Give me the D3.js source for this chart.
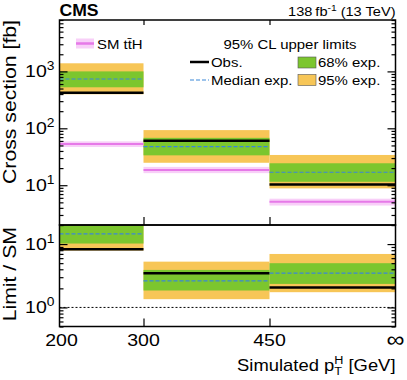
<!DOCTYPE html>
<html>
<head>
<meta charset="utf-8">
<script src="https://cdn.jsdelivr.net/npm/d3@7"></script>
<style>
  body { margin: 0; background: #fff; }
  text { font-family: "Liberation Sans", Arial, sans-serif; fill: #000; }
</style>
</head>
<body>
<svg id="chart" width="407" height="380"></svg>
<script>
// bins in simulated pT(H), last edge stands for infinity
var binEdges = [200, 300, 450, 600];
var xTickValues = [200, 300, 450, 600];
var xTickLabels = ["200", "300", "450", "\u221e"];

// upper pad: cross section limits [fb]
var obsXsec  = [422, 60.5, 10.3];
var medXsec  = [735, 47.5, 16.9];
var lo68Xsec = [526, 33.5, 11.5];
var hi68Xsec = [1000, 68, 24.3];
var lo95Xsec = [396, 24.8, 8.8];
var hi95Xsec = [1388, 93, 34];
var smXsec   = [53, 18.5, 5.1];
var smLoXsec = [47, 16.3, 4.4];
var smHiXsec = [59, 21, 5.8];

// lower pad: limit / SM
var obsRatio  = [8.3, 3.47, 2.06];
var medRatio  = [14.5, 2.62, 3.47];
var lo68Ratio = [10.2, 1.85, 2.35];
var hi68Ratio = [21, 3.91, 4.99];
var lo95Ratio = [7.9, 1.35, 1.74];
var hi95Ratio = [26, 5.28, 6.98];

var upperMajor = [10, 100, 1000];
var upperMinor = [2,3,4,5,6,7,8,9,20,30,40,50,60,70,80,90,200,300,400,500,600,700,800,900,2000,3000,4000,5000,6000,7000,8000];
var lowerMajor = [1, 10];
var lowerMinor = [0.5,0.6,0.7,0.8,0.9,2,3,4,5,6,7,8,9,20];

var col = {
  yellow: "#F7C657",
  green: "#7CC62E",
  median: "#3A87D8",
  smLine: "#E679E8",
  smBand: "#F8CFF8"
};

var padL = 59.5, padR = 395.5, padT = 20, padM = 225, padB = 326.5;

var svg = d3.select("#chart");

var x = d3.scaleLinear().domain([200, 600]).range([padL, padR]);
var yUp = d3.scaleLog().domain([2, 8000]).range([padM, padT]);
var yLo = d3.scaleLog().domain([0.5, 20]).range([padB, padM]);

// clip paths for each pad
var defs = svg.append("defs");
defs.append("clipPath").attr("id", "clipUp").append("rect")
  .attr("x", padL).attr("y", padT).attr("width", padR - padL).attr("height", padM - padT);
defs.append("clipPath").attr("id", "clipLo").append("rect")
  .attr("x", padL).attr("y", padM).attr("width", padR - padL).attr("height", padB - padM);

function bins(lo95, hi95, lo68, hi68, med, obs) {
  return d3.range(binEdges.length - 1).map(function(i) {
    return { x0: binEdges[i], x1: binEdges[i + 1],
      lo95: lo95[i], hi95: hi95[i], lo68: lo68[i], hi68: hi68[i],
      med: med[i], obs: obs[i] };
  });
}

function drawLimits(g, y, data) {
  g.selectAll(".b95").data(data).enter().append("rect")
    .attr("x", function(d) { return x(d.x0); })
    .attr("width", function(d) { return x(d.x1) - x(d.x0); })
    .attr("y", function(d) { return y(d.hi95); })
    .attr("height", function(d) { return y(d.lo95) - y(d.hi95); })
    .attr("fill", col.yellow);
  g.selectAll(".b68").data(data).enter().append("rect")
    .attr("x", function(d) { return x(d.x0); })
    .attr("width", function(d) { return x(d.x1) - x(d.x0); })
    .attr("y", function(d) { return y(d.hi68); })
    .attr("height", function(d) { return y(d.lo68) - y(d.hi68); })
    .attr("fill", col.green);
  g.selectAll(".obs").data(data).enter().append("line")
    .attr("x1", function(d) { return x(d.x0); })
    .attr("x2", function(d) { return x(d.x1); })
    .attr("y1", function(d) { return y(d.obs); })
    .attr("y2", function(d) { return y(d.obs); })
    .attr("stroke", "#000").attr("stroke-width", 2.5);
  g.selectAll(".med").data(data).enter().append("line")
    .attr("x1", function(d) { return x(d.x0); })
    .attr("x2", function(d) { return x(d.x1); })
    .attr("y1", function(d) { return y(d.med); })
    .attr("y2", function(d) { return y(d.med); })
    .attr("stroke", col.median).attr("stroke-width", 1.2)
    .attr("stroke-dasharray", "4,2");
}

// upper pad
var gUp = svg.append("g").attr("clip-path", "url(#clipUp)");
var smData = d3.range(binEdges.length - 1).map(function(i) {
  return { x0: binEdges[i], x1: binEdges[i + 1], v: smXsec[i], lo: smLoXsec[i], hi: smHiXsec[i] };
});
gUp.selectAll(".smb").data(smData).enter().append("rect")
  .attr("x", function(d) { return x(d.x0); })
  .attr("width", function(d) { return x(d.x1) - x(d.x0); })
  .attr("y", function(d) { return yUp(d.hi); })
  .attr("height", function(d) { return yUp(d.lo) - yUp(d.hi); })
  .attr("fill", col.smBand);
drawLimits(gUp, yUp, bins(lo95Xsec, hi95Xsec, lo68Xsec, hi68Xsec, medXsec, obsXsec));
gUp.selectAll(".sml").data(smData).enter().append("line")
  .attr("x1", function(d) { return x(d.x0); })
  .attr("x2", function(d) { return x(d.x1); })
  .attr("y1", function(d) { return yUp(d.v); })
  .attr("y2", function(d) { return yUp(d.v); })
  .attr("stroke", col.smLine).attr("stroke-width", 2);

// lower pad
var gLo = svg.append("g").attr("clip-path", "url(#clipLo)");
drawLimits(gLo, yLo, bins(lo95Ratio, hi95Ratio, lo68Ratio, hi68Ratio, medRatio, obsRatio));
gLo.append("line")
  .attr("x1", padL).attr("x2", padR)
  .attr("y1", yLo(1)).attr("y2", yLo(1))
  .attr("stroke", "#000").attr("stroke-width", 1).attr("stroke-dasharray", "2,2");

// axes (ticks only, pointing inward)
function ticks(axis, tx, ty) {
  svg.append("g").attr("transform", "translate(" + tx + "," + ty + ")")
    .call(axis)
    .call(function(g) { g.select(".domain").remove(); g.selectAll("text").remove(); })
    .call(function(g) { g.selectAll("line").attr("stroke", "#000").attr("stroke-width", 1.2); });
}
ticks(d3.axisLeft(yUp).tickValues(upperMajor).tickSize(-8), padL, 0);
ticks(d3.axisLeft(yUp).tickValues(upperMinor).tickSize(-4), padL, 0);
ticks(d3.axisRight(yUp).tickValues(upperMajor).tickSize(-8), padR, 0);
ticks(d3.axisRight(yUp).tickValues(upperMinor).tickSize(-4), padR, 0);
ticks(d3.axisLeft(yLo).tickValues(lowerMajor).tickSize(-8), padL, 0);
ticks(d3.axisLeft(yLo).tickValues(lowerMinor).tickSize(-4), padL, 0);
ticks(d3.axisRight(yLo).tickValues(lowerMajor).tickSize(-8), padR, 0);
ticks(d3.axisRight(yLo).tickValues(lowerMinor).tickSize(-4), padR, 0);
ticks(d3.axisTop(x).tickValues([300, 450]).tickSize(-5), 0, padT);
ticks(d3.axisBottom(x).tickValues([300, 450]).tickSize(-8), 0, padM);
ticks(d3.axisBottom(x).tickValues([300, 450]).tickSize(-8), 0, padB);

// frames
[[padT, padM], [padM, padB]].forEach(function(p) {
  svg.append("rect").attr("x", padL).attr("y", p[0])
    .attr("width", padR - padL).attr("height", p[1] - p[0])
    .attr("fill", "none").attr("stroke", "#000").attr("stroke-width", 1.5);
});

// text helper: wider glyphs like the ROOT output
function label(tx, ty, size, anchor, rot, sx) {
  return svg.append("text")
    .attr("transform", "translate(" + tx + "," + ty + ")" + (rot ? " rotate(" + rot + ")" : "") + " scale(" + sx + ",1)")
    .attr("font-size", size).attr("text-anchor", anchor);
}

// y tick labels 10^n
function powLabels(y, vals) {
  vals.forEach(function(v) {
    var t = label(padL - 5, y(v) + 6, 17, "end", 0, 1.15);
    t.append("tspan").text("10");
    t.append("tspan").attr("font-size", 12).attr("dy", -7).text(Math.round(Math.log10(v)));
  });
}
powLabels(yUp, upperMajor);
powLabels(yLo, lowerMajor);

// x tick labels
xTickValues.forEach(function(v, i) {
  var inf = i === xTickLabels.length - 1;
  label(x(v) + (i === 0 ? 2 : 0), inf ? 347 : 346, inf ? 22 : 17, "middle", 0, 1.15).text(xTickLabels[i]);
});

// axis titles
label(16, padT, 18, "end", -90, 1.18).text("Cross section [fb]");
label(16, padM + 2, 18, "end", -90, 1.18).text("Limit / SM");
var xt = label(padR, 371, 16, "end", 0, 1.15);
xt.append("tspan").text("Simulated p");
xt.append("tspan").attr("font-size", 11).attr("dy", 4).text("T");
xt.append("tspan").attr("font-size", 11).attr("dx", -6.7).attr("dy", -11).text("H");
xt.append("tspan").attr("dy", 7).text(" [GeV]");

// header
label(padL, 16, 16, "start", 0, 1.1).attr("font-weight", "bold").text("CMS");
var lumi = label(padR, 16, 13.5, "end", 0, 1.08);
lumi.append("tspan").text("138\u2009fb");
lumi.append("tspan").attr("font-size", 9.5).attr("dy", -5).text("-1");
lumi.append("tspan").attr("dy", 5).text(" (13 TeV)");

// legend
svg.append("rect").attr("x", 76).attr("y", 38.5).attr("width", 18).attr("height", 10).attr("fill", col.smBand);
svg.append("line").attr("x1", 76).attr("x2", 94).attr("y1", 43.5).attr("y2", 43.5)
  .attr("stroke", col.smLine).attr("stroke-width", 2.5);
label(97, 48.5, 13, "start", 0, 1.15).text("SM t\u0074\u0304H");

label(290, 48.5, 13, "middle", 0, 1.15).text("95% CL upper limits");

svg.append("line").attr("x1", 190).attr("x2", 209).attr("y1", 62).attr("y2", 62)
  .attr("stroke", "#000").attr("stroke-width", 2.5);
label(211, 67, 13, "start", 0, 1.15).text("Obs.");
svg.append("line").attr("x1", 190).attr("x2", 209).attr("y1", 80).attr("y2", 80)
  .attr("stroke", col.median).attr("stroke-width", 1.2).attr("stroke-dasharray", "4,2");
label(211, 85, 13, "start", 0, 1.15).text("Median exp.");

svg.append("rect").attr("x", 298).attr("y", 57).attr("width", 18).attr("height", 11)
  .attr("fill", col.green).attr("stroke", "#555").attr("stroke-width", 0.6);
label(318, 67, 13, "start", 0, 1.15).text("68% exp.");
svg.append("rect").attr("x", 298).attr("y", 74.5).attr("width", 18).attr("height", 11)
  .attr("fill", col.yellow).attr("stroke", "#555").attr("stroke-width", 0.6);
label(318, 85, 13, "start", 0, 1.15).text("95% exp.");
</script>
</body>
</html>
